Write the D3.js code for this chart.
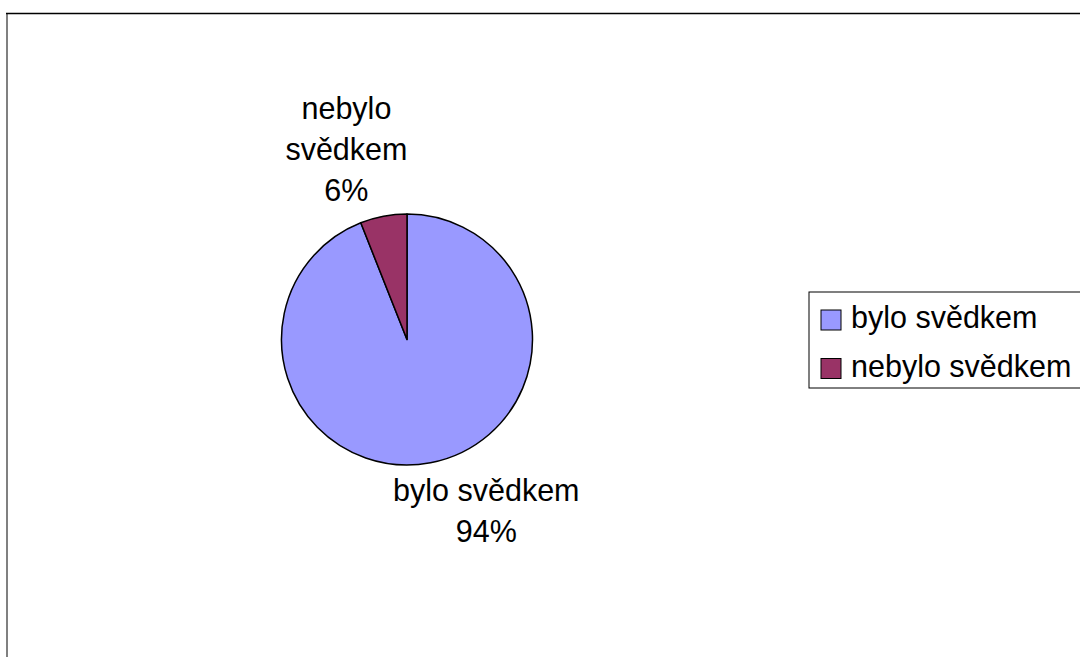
<!DOCTYPE html>
<html>
<head>
<meta charset="utf-8">
<script src="https://cdn.jsdelivr.net/npm/d3@7"></script>
<style>
  body { margin: 0; background: #fff; }
  text { font-family: "Liberation Sans", Arial, sans-serif; fill: #000; }
</style>
</head>
<body>
<div id="chart"></div>
<script>
const width = 1080;
const height = 657;

// ------- data --------//
const categories = ["bylo svědkem", "nebylo svědkem"];
const values = [94, 6];
const colors = ["#9999FF", "#993366"];
const pieLabels = [["bylo svědkem", "94%"], ["nebylo", "svědkem", "6%"]];

const cx = 407, cy = 339.5, radius = 125.5;
const fontSize = 30.5;
const lineGap = 41;

const svg = d3.select("#chart")
  .append("svg")
  .attr("width", width)
  .attr("height", height);

// chart frame (right and bottom run off the picture)
svg.append("line")
  .attr("x1", 7).attr("y1", 13).attr("x2", 7).attr("y2", height)
  .attr("stroke", "#808080").attr("stroke-width", 2);
svg.append("line")
  .attr("x1", 6).attr("y1", 13.5).attr("x2", width).attr("y2", 13.5)
  .attr("stroke", "#000").attr("stroke-width", 1.4);

// ------- pie --------//
const pie = d3.pie().sort(null).value(d => d);
const arcs = pie(values);
const arc = d3.arc().innerRadius(0).outerRadius(radius);

const g = svg.append("g").attr("transform", `translate(${cx},${cy})`);

g.selectAll("path")
  .data(arcs)
  .join("path")
    .attr("d", arc)
    .attr("fill", (d, i) => colors[i])
    .attr("stroke", "#000")
    .attr("stroke-width", 1.5)
    .attr("stroke-linejoin", "round");

// labels sit just outside the slice, box pushed away from the pie
const labelArc = d3.arc().innerRadius(radius + 9).outerRadius(radius + 9);

arcs.forEach((d, i) => {
  const [ax, ay] = labelArc.centroid(d);
  const lines = pieLabels[i];
  const t = g.append("text")
    .attr("text-anchor", "middle")
    .style("font-size", fontSize + "px");
  const spans = lines.map(s => t.append("tspan").text(s));
  const w = d3.max(spans, s => s.node().getComputedTextLength());
  const x = ax + Math.sign(ax) * w * 0.29;
  // above the centre: last line ends at the anchor; below: first line starts there
  const firstBase = ay < 0 ? ay - 6 - (lines.length - 1) * lineGap : ay + 29;
  spans.forEach((s, j) => s.attr("x", x).attr("y", firstBase + j * lineGap));
});

// ------- legend --------//
const legend = svg.append("g").attr("transform", "translate(809,292)");

legend.append("rect")
  .attr("x", 0).attr("y", 0)
  .attr("width", 300).attr("height", 96)
  .attr("fill", "#fff")
  .attr("stroke", "#000")
  .attr("stroke-width", 1);

const item = legend.selectAll("g.item")
  .data(categories)
  .join("g")
    .attr("class", "item")
    .attr("transform", (d, i) => `translate(12,${18 + i * 48.5})`);

item.append("rect")
  .attr("width", 20).attr("height", 20)
  .attr("fill", (d, i) => colors[i])
  .attr("stroke", "#000")
  .attr("stroke-width", 1);

item.append("text")
  .attr("x", 30)
  .attr("y", 18)
  .style("font-size", fontSize + "px")
  .text(d => d);
</script>
</body>
</html>
